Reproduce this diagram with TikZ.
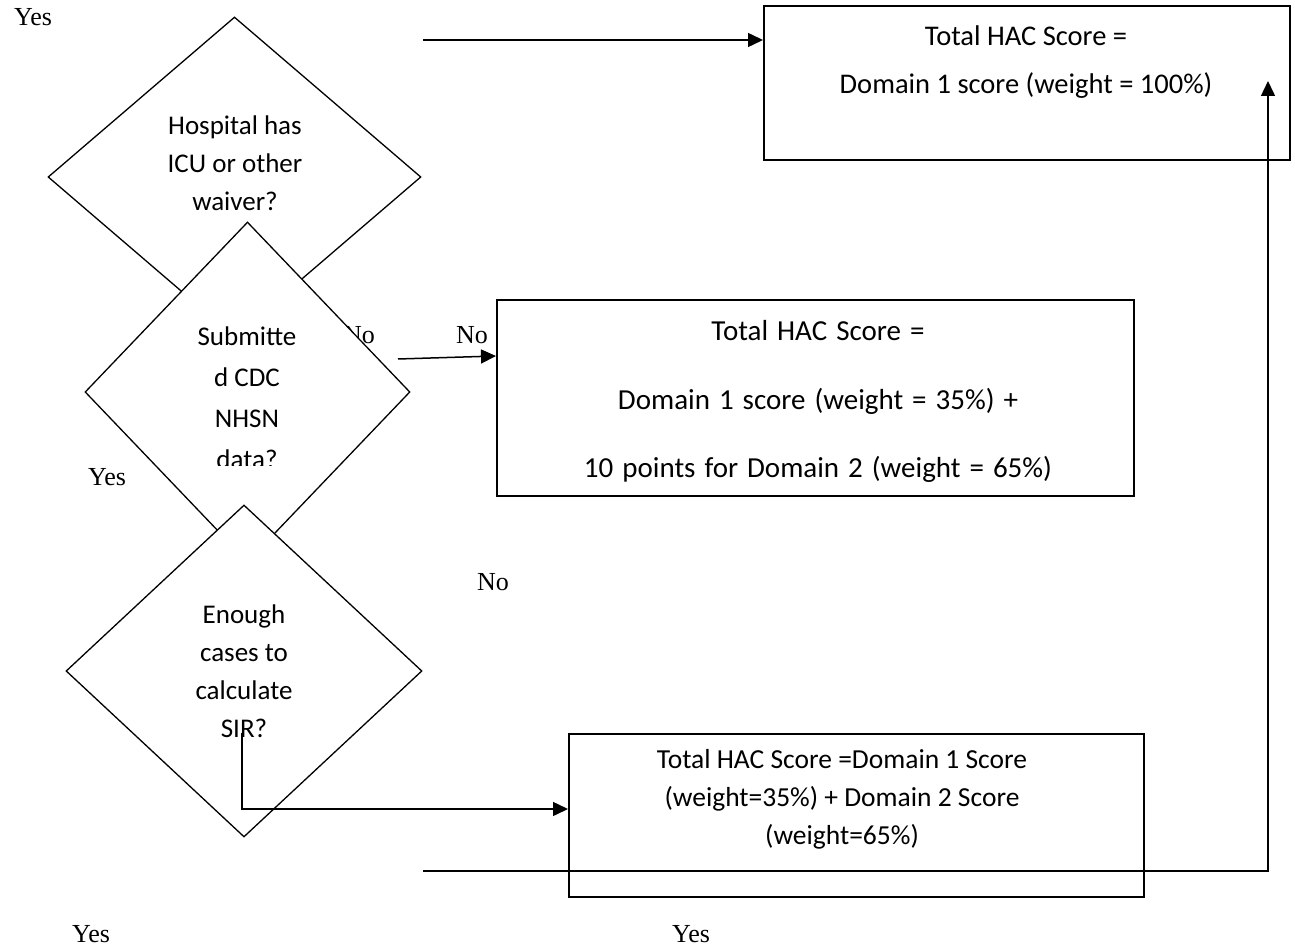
\documentclass[tikz,border=0pt]{standalone}
\usepackage{fontspec}
\setmainfont{Liberation Serif}
\newfontfamily\calfont{Carlito}
\newcommand\widesp{\spaceskip=9pt plus 1pt\relax}
\usetikzlibrary{shapes.geometric,arrows.meta}
\begin{document}
\begin{tikzpicture}[x=1pt,y=-1pt,
  dia/.style={diamond,draw,fill=white,line width=1.3pt,inner sep=0pt},
  box/.style={draw,line width=1.8pt,anchor=north west,inner sep=0pt},
  lbl/.style={font=\fontsize{26}{30}\selectfont,inner sep=0pt},
  txt/.style={font=\calfont\fontsize{27}{38}\selectfont,align=center,inner sep=0pt},
  conn/.style={line width=1.5pt,-{Triangle[length=15pt,width=14pt]}},
  ln/.style={line width=1.5pt}]
\useasboundingbox (0,0) rectangle (1295,949);

% diamonds
\node[dia,minimum width=373pt,minimum height=320pt] (d1) at (234.5,177) {};
\node[txt] (d1t) at (235,163) {Hospital has\\ICU or other\\waiver?};
\node[lbl] (no1) at (359,335) {No};
\node[dia,minimum width=325pt,minimum height=340pt] (d2) at (247.5,392) {};
\begin{scope}
\clip (140,300) rectangle (360,465);
\node[txt,font=\calfont\fontsize{27}{41}\selectfont] (d2t) at (247,398) {Submitte\\d CDC\\NHSN\\data?};
\end{scope}
\node[dia,minimum width=356pt,minimum height=332pt] (d3) at (244,671) {};
\node[txt] (d3t) at (244,671.5) {Enough\\cases to\\calculate\\SIR?};

% boxes
\node[box,minimum width=526pt,minimum height=154pt] (b1) at (763,5) {};
\node[txt,font=\calfont\fontsize{28.5}{48}\selectfont] (b1t) at (1026,62) {Total HAC Score =\\Domain 1 score (weight = 100\%)};
\node[box,minimum width=637pt,minimum height=196pt] (b2) at (496,299) {};
\node[txt,font={\calfont\fontsize{29}{68.5}\selectfont\widesp}] (b2t) at (818,401.5) {Total HAC Score =\\Domain 1 score (weight = 35\%) +\\10 points for Domain 2 (weight = 65\%)};
\node[box,minimum width=575pt,minimum height=163pt] (b3) at (568,733) {};
\node[txt,font=\calfont\fontsize{27.5}{38}\selectfont] (b3t) at (842,799) {Total HAC Score =Domain 1 Score\\(weight=35\%) + Domain 2 Score\\(weight=65\%)};

% labels
\node[lbl] (yes1) at (33,17) {Yes};
\node[lbl] (no2) at (472,335) {No};
\node[lbl] (yes2) at (107,477) {Yes};
\node[lbl] (no3) at (493,582) {No};
\node[lbl] (yes3) at (91,934) {Yes};
\node[lbl] (yes4) at (691,934) {Yes};

% connectors
\coordinate (s1) at (423,40);
\draw[conn] (s1) -- (s1 -| b1.west);
\coordinate (s2) at (398,359);
\draw[conn] (s2) -- (b2.west |- 0,356);
\coordinate (s3) at (242,733);
\draw[conn] (s3) |- (b3.west |- 0,809);
\coordinate (s4) at (423,871);
\coordinate (t4) at (1268,81);
\draw[conn] (s4) -| (t4);
\end{tikzpicture}
\end{document}
